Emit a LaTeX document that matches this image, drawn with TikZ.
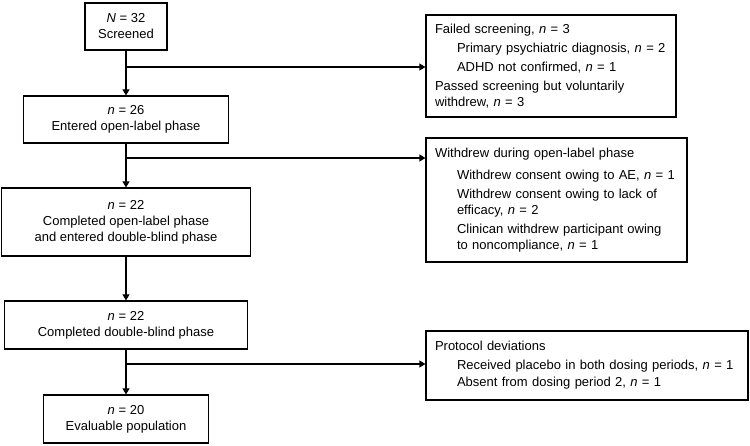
\documentclass[tikz,border=0pt]{standalone}
\usepackage{fontspec}
\setmainfont{Liberation Sans}
\usetikzlibrary{arrows.meta}

\newcommand{\indentitem}{\hspace*{22pt}}

\begin{document}
\begin{tikzpicture}[x=1pt,y=-1pt,
  >={Triangle[length=6pt,width=7pt]},
  font=\fontsize{13}{16}\selectfont,
  stage/.style={draw,line width=1.2pt,align=center,inner sep=0pt},
  reason/.style={draw,line width=1.2pt,align=left,inner xsep=9pt,inner ysep=0pt},
  flow/.style={->,line width=1.2pt}]
\useasboundingbox (0,0) rectangle (750,446);

% main column
\node[stage,minimum width=82pt,minimum height=47pt] (screened) at (126,26.5) {\textit{N} = 32\\Screened};
\node[stage,minimum width=205pt,minimum height=47pt] (openlabel) at (126,119.5) {\textit{n} = 26\\Entered open-label phase};
\node[stage,minimum width=249pt,minimum height=68pt] (entered) at (126,222) {\textit{n} = 22\\Completed open-label phase\\and entered double-blind phase};
\node[stage,minimum width=243pt,minimum height=48pt] (doubleblind) at (126,325) {\textit{n} = 22\\Completed double-blind phase};
\node[stage,minimum width=165pt,minimum height=48pt] (evaluable) at (126,419) {\textit{n} = 20\\Evaluable population};

% side boxes
\node[reason,text width=232pt,minimum height=102pt] (failed) at (551,66) {Failed screening, \textit{n} = 3\\[3pt]
\indentitem Primary psychiatric diagnosis, \textit{n} = 2\\[3pt]
\indentitem ADHD not confirmed, \textit{n} = 1\\[3pt]
Passed screening but voluntarily\\
withdrew, \textit{n} = 3};
\node[reason,text width=243pt,minimum height=124pt] (withdrew) at (556.5,200) {Withdrew during open-label phase\\[6pt]
\indentitem Withdrew consent owing to AE, \textit{n} = 1\\[3pt]
\indentitem Withdrew consent owing to lack of\\
\indentitem efficacy, \textit{n} = 2\\[3pt]
\indentitem Clinican withdrew participant owing\\
\indentitem to noncompliance, \textit{n} = 1};
\node[reason,text width=304pt,minimum height=69pt] (deviations) at (587,365.5) {Protocol deviations\\[3pt]
\indentitem Received placebo in both dosing periods, \textit{n} = 1\\[1pt]
\indentitem Absent from dosing period 2, \textit{n} = 1};

% junctions on the main line
\coordinate (j1) at (126,67);
\coordinate (j2) at (126,158);
\coordinate (j3) at (126,364);

\draw[flow] (screened) -- (openlabel);
\draw[flow] (openlabel) -- (entered);
\draw[flow] (entered) -- (doubleblind);
\draw[flow] (doubleblind) -- (evaluable);

\draw[flow] (j1) -- (j1 -| failed.west);
\draw[flow] (j2) -- (j2 -| withdrew.west);
\draw[flow] (j3) -- (j3 -| deviations.west);

\end{tikzpicture}
\end{document}
